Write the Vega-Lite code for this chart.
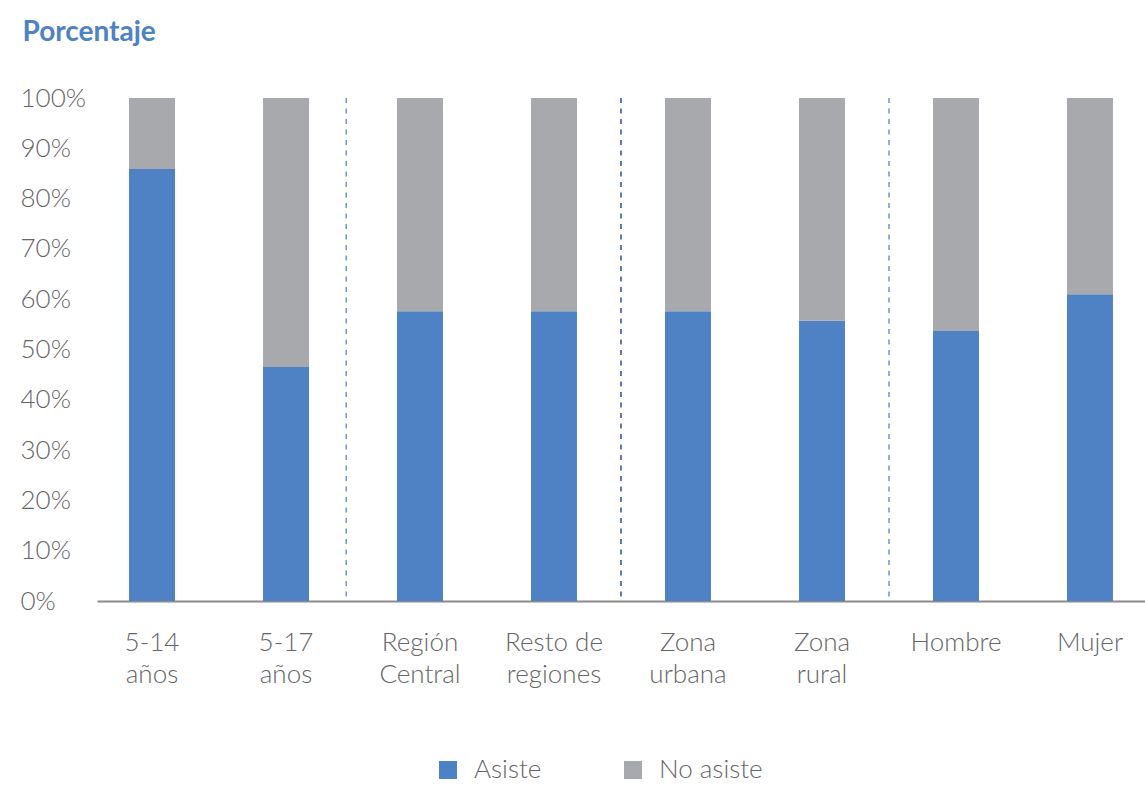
{
  "$schema": "https://vega.github.io/schema/vega-lite/v6.json",
  "width": 1048,
  "height": 503,
  "autosize": {"type": "none"},
  "padding": {"left": 97, "top": 98, "right": 0, "bottom": 184},
  "config": {"view": {"stroke": null}, "font": "Lato"},
  "resolve": {"scale": {"x": "independent"}},
  "layer": [
    {
      "data": {
        "values": [
          {"grupo": "5-14 años", "estado": "Asiste", "valor": 85.9},
          {"grupo": "5-14 años", "estado": "No asiste", "valor": 14.1},
          {"grupo": "5-17 años", "estado": "Asiste", "valor": 46.5},
          {"grupo": "5-17 años", "estado": "No asiste", "valor": 53.5},
          {"grupo": "Región Central", "estado": "Asiste", "valor": 57.6},
          {"grupo": "Región Central", "estado": "No asiste", "valor": 42.4},
          {"grupo": "Resto de regiones", "estado": "Asiste", "valor": 57.6},
          {"grupo": "Resto de regiones", "estado": "No asiste", "valor": 42.4},
          {"grupo": "Zona urbana", "estado": "Asiste", "valor": 57.6},
          {"grupo": "Zona urbana", "estado": "No asiste", "valor": 42.4},
          {"grupo": "Zona rural", "estado": "Asiste", "valor": 55.7},
          {"grupo": "Zona rural", "estado": "No asiste", "valor": 44.3},
          {"grupo": "Hombre", "estado": "Asiste", "valor": 53.7},
          {"grupo": "Hombre", "estado": "No asiste", "valor": 46.3},
          {"grupo": "Mujer", "estado": "Asiste", "valor": 61.0},
          {"grupo": "Mujer", "estado": "No asiste", "valor": 39.0}
        ]
      },
      "mark": {"type": "bar"},
      "encoding": {
        "x": {
          "field": "grupo",
          "type": "nominal",
          "sort": null,
          "scale": {"paddingInner": 0.657, "paddingOuter": 0.239},
          "axis": {
            "title": null,
            "labelAngle": 0,
            "labelExpr": "datum.label == 'Resto de regiones' ? ['Resto de', 'regiones'] : split(datum.label, ' ')",
            "labelFontSize": 26,
            "labelFontWeight": 300,
            "labelColor": "#666666",
            "labelBaseline": "top",
            "labelLineHeight": 32,
            "labelPadding": 28,
            "ticks": false,
            "tickSize": 0,
            "domainColor": "#8a8a8a",
            "domainWidth": 2,
            "grid": false
          }
        },
        "y": {
          "field": "valor",
          "type": "quantitative",
          "stack": "zero",
          "scale": {"domain": [0, 100], "nice": false},
          "axis": {
            "values": [0, 10, 20, 30, 40, 50, 60, 70, 80, 90, 100],
            "labelExpr": "datum.value + '%'",
            "labelAlign": "left",
            "labelBaseline": "middle",
            "labelPadding": 77,
            "labelFontSize": 26,
            "labelFontWeight": 300,
            "labelColor": "#666666",
            "ticks": false,
            "tickSize": 0,
            "domain": false,
            "grid": false,
            "title": "Porcentaje",
            "titleAngle": 0,
            "titleX": -75,
            "titleY": -58,
            "titleAlign": "left",
            "titleBaseline": "alphabetic",
            "titleFontSize": 28,
            "titleFontWeight": "bold",
            "titleColor": "#4e82c4"
          }
        },
        "color": {
          "field": "estado",
          "type": "nominal",
          "scale": {"domain": ["Asiste", "No asiste"], "range": ["#4e82c4", "#a8a9ac"]},
          "legend": {
            "orient": "none",
            "legendX": 338,
            "legendY": 659,
            "direction": "horizontal",
            "title": null,
            "symbolType": "square",
            "symbolSize": 324,
            "symbolStrokeWidth": 0,
            "labelFontSize": 26,
            "labelFontWeight": 300,
            "labelColor": "#666666",
            "labelOffset": 13,
            "columnPadding": 78
          }
        },
        "order": {"field": "estado", "sort": "ascending"}
      }
    },
    {
      "data": {"values": [{"sep": 1.45}, {"sep": 5.5}]},
      "mark": {"type": "rule", "color": "#7391cc", "strokeDash": [5, 5.5], "strokeWidth": 1.5},
      "encoding": {
        "x": {"field": "sep", "type": "quantitative", "scale": {"domain": [-0.41, 7.41], "nice": false, "zero": false}, "axis": null}
      }
    },
    {
      "data": {"values": [{"sep": 3.5}]},
      "mark": {"type": "rule", "color": "#2d4f9c", "strokeDash": [5, 5.5], "strokeWidth": 1.5},
      "encoding": {
        "x": {"field": "sep", "type": "quantitative", "scale": {"domain": [-0.41, 7.41], "nice": false, "zero": false}, "axis": null}
      }
    }
  ]
}
